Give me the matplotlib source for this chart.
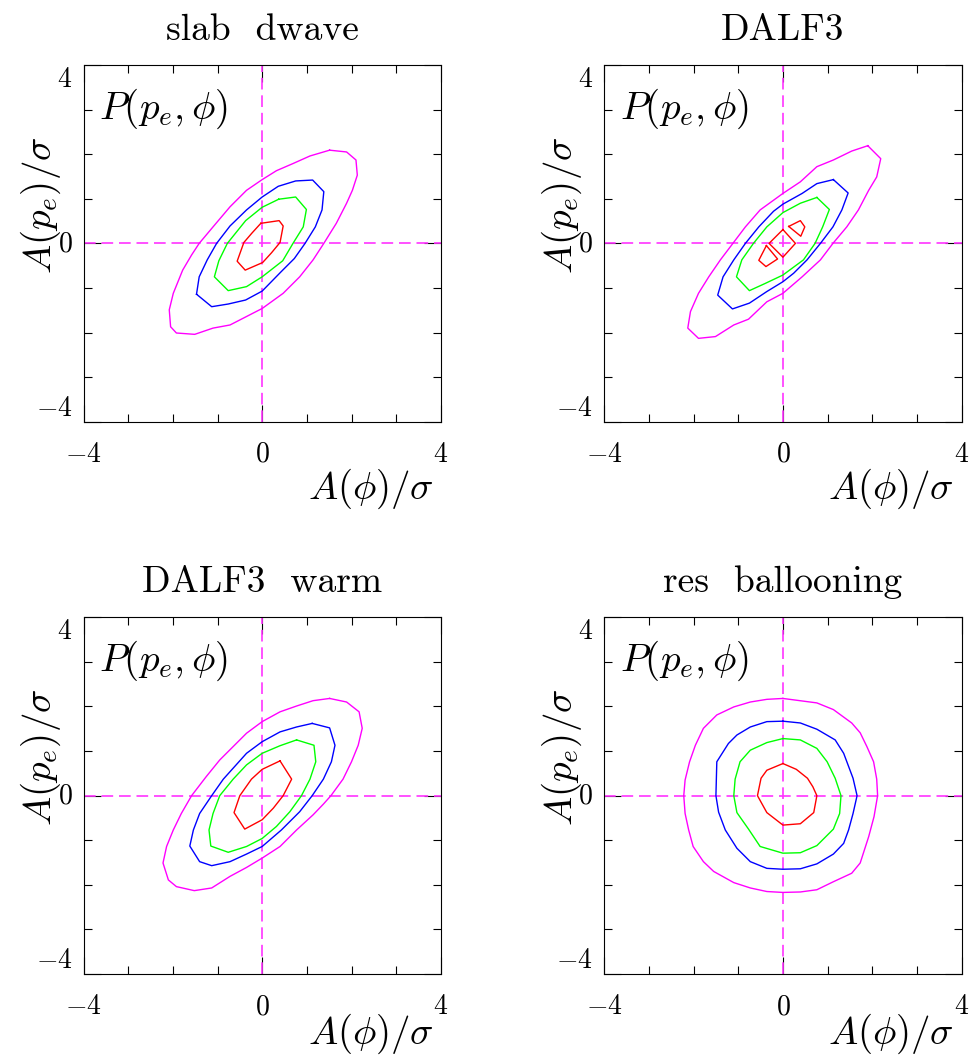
import matplotlib
matplotlib.use('Agg')
import matplotlib.pyplot as plt
from matplotlib.ticker import MultipleLocator

plt.rcParams['mathtext.fontset'] = 'cm'

titles = ['slab  dwave', 'DALF3', 'DALF3  warm', 'res  ballooning']
tick_values = [-4, 0, 4]
tick_labels = [r'$-4$', r'$0$', r'$4$']
xlabel = r'$A(\phi)/\sigma$'
ylabel = r'$A(p_e)/\sigma$'
pdf_label = r'$P(p_e,\phi)$'

# contour outlines, (A(phi)/sigma, A(p_e)/sigma)
# levels from outer (magenta) to inner (red)
slab_magenta = [(1.51, 2.09), (1.89, 2.05), (2.10, 1.87), (2.13, 1.53), (2.02, 1.19), (1.89, 0.90),
                (1.66, 0.45), (1.38, 0.0), (1.14, -0.37), (0.84, -0.75), (0.47, -1.12), (0.0, -1.46),
                (-0.35, -1.64), (-0.72, -1.83), (-1.10, -1.90), (-1.51, -2.04), (-1.92, -2.01),
                (-2.05, -1.87), (-2.08, -1.49), (-1.99, -1.12), (-1.78, -0.60), (-1.58, -0.26),
                (-1.41, 0.0), (-1.10, 0.37), (-0.72, 0.82), (-0.35, 1.19), (0.0, 1.43), (0.32, 1.63),
                (0.69, 1.79), (1.07, 1.96)]
slab_blue = [(-1.47, -1.14), (-1.41, -0.75), (-1.23, -0.37), (-1.02, 0.0), (-0.72, 0.39), (-0.35, 0.75),
             (0.0, 1.04), (0.36, 1.28), (0.75, 1.40), (1.13, 1.42), (1.38, 1.16), (1.34, 0.75),
             (1.19, 0.37), (0.96, 0.0), (0.72, -0.34), (0.43, -0.63), (0.0, -1.07), (-0.37, -1.27),
             (-0.76, -1.36), (-1.13, -1.42)]
slab_green = [(0.37, 0.99), (0.75, 1.04), (0.99, 0.76), (0.92, 0.37), (0.69, 0.0), (0.46, -0.39),
              (0.0, -0.75), (-0.35, -0.97), (-0.76, -1.06), (-1.07, -0.75), (-0.97, -0.39),
              (-0.78, 0.0), (-0.37, 0.51), (0.0, 0.81)]
slab_red = [(-0.03, 0.45), (0.38, 0.51), (0.47, 0.39), (0.40, 0.02), (0.21, -0.21), (0.01, -0.43),
            (-0.38, -0.60), (-0.56, -0.40), (-0.41, 0.02), (-0.23, 0.23)]

dalf3_magenta = [(1.90, 2.19), (2.19, 1.90), (2.10, 1.49), (1.92, 1.19), (1.69, 0.75), (1.43, 0.37),
                 (1.12, 0.0), (0.84, -0.37), (0.43, -0.75), (0.0, -1.12), (-0.36, -1.31), (-0.77, -1.70),
                 (-1.10, -1.83), (-1.51, -2.09), (-1.89, -2.13), (-2.13, -1.90), (-2.07, -1.53),
                 (-1.89, -1.12), (-1.66, -0.75), (-1.40, -0.37), (-1.12, 0.0), (-0.84, 0.37),
                 (-0.51, 0.75), (0.0, 1.12), (0.39, 1.38), (0.76, 1.72), (1.13, 1.87), (1.54, 2.07)]
dalf3_blue = [(1.13, 1.43), (1.46, 1.13), (1.32, 0.75), (1.12, 0.37), (0.84, 0.0), (0.54, -0.37),
              (0.24, -0.67), (0.0, -0.86), (-0.36, -1.08), (-0.75, -1.34), (-1.13, -1.47), (-1.46, -1.16),
              (-1.34, -0.75), (-1.10, -0.37), (-0.84, 0.0), (-0.54, 0.37), (-0.21, 0.72), (0.0, 0.88),
              (0.43, 1.12), (0.76, 1.34)]
dalf3_green = [(0.76, 1.03), (1.04, 0.76), (0.89, 0.37), (0.72, 0.0), (0.46, -0.37), (0.0, -0.71),
               (-0.40, -0.90), (-0.75, -1.06), (-1.04, -0.75), (-0.92, -0.37), (-0.66, 0.0),
               (-0.36, 0.37), (0.0, 0.69), (0.39, 0.90)]
dalf3_red_mid = [(0.0, 0.31), (0.28, 0.0), (0.0, -0.31), (-0.31, 0.0)]
dalf3_red_upper = [(0.13, 0.38), (0.39, 0.51), (0.49, 0.37), (0.40, 0.16)]
dalf3_red_lower = [(-0.37, -0.05), (-0.12, -0.35), (-0.38, -0.52), (-0.54, -0.38)]

warm_magenta = [(1.51, 2.18), (1.89, 2.10), (2.17, 1.88), (2.24, 1.51), (2.15, 1.13), (2.00, 0.76),
                (1.81, 0.37), (1.54, 0.0), (1.37, -0.19), (1.14, -0.43), (0.77, -0.77), (0.40, -1.14),
                (0.0, -1.40), (-0.35, -1.61), (-0.72, -1.81), (-1.13, -2.07), (-1.52, -2.13),
                (-1.92, -2.04), (-2.10, -1.89), (-2.22, -1.51), (-2.14, -1.14), (-1.99, -0.77),
                (-1.81, -0.40), (-1.58, 0.0), (-1.25, 0.43), (-0.95, 0.80), (-0.65, 1.10),
                (-0.35, 1.40), (0.0, 1.66), (0.40, 1.88), (0.77, 2.01), (1.14, 2.13)]
warm_blue = [(1.12, 1.62), (1.51, 1.52), (1.63, 1.13), (1.55, 0.76), (1.37, 0.37), (1.12, 0.0),
             (0.84, -0.36), (0.43, -0.77), (0.0, -1.14), (-0.35, -1.31), (-0.72, -1.48), (-1.13, -1.57),
             (-1.40, -1.48), (-1.62, -1.13), (-1.54, -0.77), (-1.40, -0.40), (-1.13, 0.0),
             (-0.87, 0.37), (-0.35, 0.95), (0.0, 1.21), (0.40, 1.43), (0.77, 1.54)]
warm_green = [(0.77, 1.25), (1.16, 1.13), (1.20, 0.76), (1.07, 0.37), (0.88, 0.0), (0.62, -0.36),
              (0.32, -0.69), (0.0, -0.96), (-0.35, -1.14), (-0.76, -1.27), (-1.15, -1.13),
              (-1.19, -0.77), (-1.10, -0.40), (-0.95, 0.0), (-0.65, 0.37), (-0.35, 0.69), (0.0, 0.95),
              (0.40, 1.12)]
warm_red = [(0.40, 0.78), (0.66, 0.37), (0.47, 0.0), (0.25, -0.28), (0.0, -0.54), (-0.39, -0.75),
            (-0.63, -0.38), (-0.50, 0.0), (-0.24, 0.37), (0.0, 0.59)]

ball_magenta = [(0.0, 2.18), (0.76, 2.08), (1.13, 1.93), (1.54, 1.63), (1.73, 1.41), (1.88, 1.10),
                (2.03, 0.76), (2.10, 0.37), (2.12, 0.0), (2.04, -0.47), (1.92, -0.92), (1.73, -1.51),
                (1.54, -1.74), (1.13, -1.93), (0.76, -2.11), (0.39, -2.16), (0.0, -2.17), (-0.36, -2.15),
                (-0.73, -2.07), (-1.10, -1.95), (-1.55, -1.70), (-1.78, -1.48), (-2.01, -1.14),
                (-2.11, -0.77), (-2.19, -0.40), (-2.22, 0.0), (-2.19, 0.35), (-2.09, 0.76),
                (-1.96, 1.13), (-1.78, 1.51), (-1.48, 1.81), (-1.10, 1.99), (-0.73, 2.10), (-0.36, 2.16)]
ball_blue = [(0.0, 1.67), (0.39, 1.63), (0.76, 1.49), (1.17, 1.25), (1.36, 0.95), (1.57, 0.39),
             (1.66, 0.0), (1.57, -0.40), (1.47, -0.77), (1.36, -1.07), (1.13, -1.31), (0.76, -1.53),
             (0.39, -1.64), (0.0, -1.65), (-0.36, -1.63), (-0.73, -1.48), (-1.03, -1.18),
             (-1.29, -0.77), (-1.44, -0.37), (-1.50, 0.0), (-1.48, 0.76), (-1.22, 1.17),
             (-1.03, 1.36), (-0.73, 1.54), (-0.36, 1.66)]
ball_green = [(0.0, 1.28), (0.39, 1.25), (0.76, 1.06), (0.99, 0.76), (1.17, 0.39), (1.30, 0.0),
              (1.27, -0.40), (1.13, -0.75), (0.76, -1.12), (0.39, -1.28), (0.0, -1.29), (-0.51, -1.14),
              (-0.77, -0.75), (-1.03, -0.38), (-1.10, 0.0), (-1.07, 0.37), (-0.96, 0.76),
              (-0.73, 1.02), (-0.36, 1.19)]
ball_red = [(0.0, 0.72), (0.30, 0.59), (0.55, 0.39), (0.67, 0.20), (0.76, 0.0), (0.69, -0.38),
            (0.39, -0.63), (0.0, -0.66), (-0.36, -0.38), (-0.57, 0.0), (-0.49, 0.39), (-0.36, 0.57)]

MAG, BLU, GRN, RED = '#ff00ff', '#0000ff', '#00ff00', '#ff0000'

panels = [
    [(slab_magenta, MAG), (slab_blue, BLU), (slab_green, GRN), (slab_red, RED)],
    [(dalf3_magenta, MAG), (dalf3_blue, BLU), (dalf3_green, GRN),
     (dalf3_red_mid, RED), (dalf3_red_upper, RED), (dalf3_red_lower, RED)],
    [(warm_magenta, MAG), (warm_blue, BLU), (warm_green, GRN), (warm_red, RED)],
    [(ball_magenta, MAG), (ball_blue, BLU), (ball_green, GRN), (ball_red, RED)],
]

# axes rectangles in figure fractions
positions = [
    [0.086, 0.601, 0.368, 0.3375],
    [0.6223, 0.601, 0.368, 0.3375],
    [0.086, 0.0785, 0.368, 0.3375],
    [0.6223, 0.0785, 0.368, 0.3375],
]


def draw_loop(ax, pts, color):
    xs = [p[0] for p in pts] + [pts[0][0]]
    ys = [p[1] for p in pts] + [pts[0][1]]
    ax.plot(xs, ys, color=color, lw=1.0, zorder=3)


fig = plt.figure(figsize=(9.71, 10.57), dpi=100)

for i in range(4):
    ax = fig.add_axes(positions[i])
    for pts, color in panels[i]:
        draw_loop(ax, pts, color)
    ax.axhline(0, color='#ff33ff', lw=1.2, dashes=(7, 3.5), zorder=2)
    ax.axvline(0, color='#ff33ff', lw=1.2, dashes=(7, 3.5), zorder=2)

    ax.set_xlim(-4, 4)
    ax.set_ylim(-4, 4)
    ax.set_xticks(tick_values)
    ax.set_yticks(tick_values)
    ax.set_xticklabels(tick_labels)
    ax.set_yticklabels(tick_labels)
    ax.xaxis.set_minor_locator(MultipleLocator(1))
    ax.yaxis.set_minor_locator(MultipleLocator(1))
    ax.tick_params(which='both', direction='in', top=True, right=True, width=0.8, labelsize=20)
    ax.tick_params(which='major', length=12)
    ax.tick_params(which='minor', length=5.5)
    ax.tick_params(axis='x', pad=13)
    ax.tick_params(axis='y', pad=8)
    for lab, va in zip(ax.get_yticklabels(), ['bottom', 'center', 'top']):
        lab.set_va(va)
    for sp in ax.spines.values():
        sp.set_linewidth(0.8)

    ax.set_title(titles[i], fontfamily='cmr10', fontsize=27, pad=18)
    ax.set_xlabel(xlabel, fontsize=28, ha='right', va='center')
    ax.xaxis.set_label_coords(0.98, -0.189 if i < 2 else -0.168)
    ax.set_ylabel(ylabel, fontsize=28, ha='center', va='center')
    ax.yaxis.set_label_coords(-0.118, 0.607)
    ax.text(0.043, 0.877, pdf_label, fontsize=28, ha='left', va='center', transform=ax.transAxes)

fig.savefig('out.png', dpi=100)
